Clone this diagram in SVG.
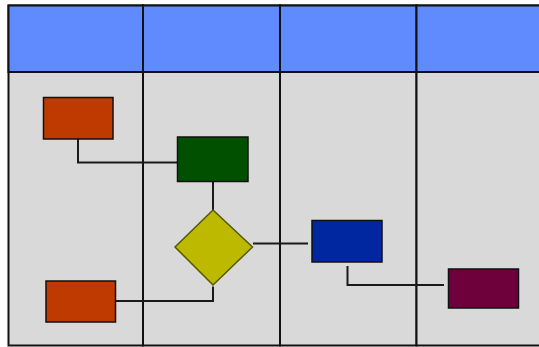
<svg xmlns="http://www.w3.org/2000/svg" width="539" height="347" viewBox="0 0 539 347">
<style>
.lane{fill:#d9d9d9;stroke:#111;stroke-width:2}
.head{fill:#5f8bff;stroke:#111;stroke-width:2}
.box{stroke:#111;stroke-width:1.5}
.conn{fill:none;stroke:#1a1a1a;stroke-width:2}
</style>
<rect width="539" height="347" fill="#ffffff"/>
<g id="lanes">
<rect class="lane" x="8.5" y="5.5" width="134.5" height="340"/>
<rect class="lane" x="143" y="5.5" width="137" height="340"/>
<rect class="lane" x="280" y="5.5" width="136.5" height="340"/>
<rect class="lane" x="416.5" y="5.5" width="136.5" height="340"/>
<rect class="head" x="8.5" y="5.5" width="134.5" height="66.5"/>
<rect class="head" x="143" y="5.5" width="137" height="66.5"/>
<rect class="head" x="280" y="5.5" width="136.5" height="66.5"/>
<rect class="head" x="416.5" y="5.5" width="136.5" height="66.5"/>
</g>
<g id="connectors">
<polyline class="conn" points="78,139 78,162.5 177,162.5"/>
<line class="conn" x1="213" y1="182" x2="213" y2="210"/>
<line class="conn" x1="253" y1="243.5" x2="308" y2="243.5"/>
<polyline class="conn" points="347.5,266 347.5,285 444,285"/>
<polyline class="conn" points="116,301 213,301 213,286.5"/>
</g>
<g id="n1"><rect class="box" x="43.5" y="97.5" width="69.5" height="41.5" fill="#bf3a00"/></g>
<g id="n2"><rect class="box" x="177.5" y="137" width="70.5" height="44.5" fill="#005000"/></g>
<g id="n3"><polygon points="213,210 252.5,247 213,285 175,247" fill="#bcb900" stroke="#555a00" stroke-width="1.5"/></g>
<g id="n4"><rect class="box" x="312" y="220.5" width="70" height="41.5" fill="#0027a0"/></g>
<g id="n5"><rect class="box" x="448.5" y="269" width="70" height="39" fill="#6e003c"/></g>
<g id="n6"><rect class="box" x="46" y="281" width="69.5" height="41" fill="#bf3a00"/></g>
</svg>
